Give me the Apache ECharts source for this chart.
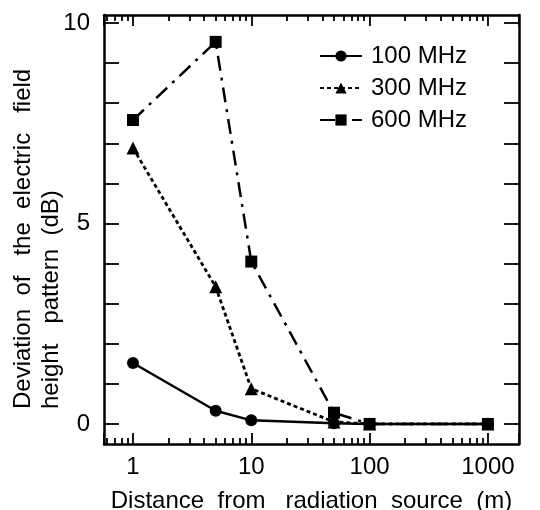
<!DOCTYPE html>
<html>
<head>
<meta charset="utf-8">
<script src="https://cdn.jsdelivr.net/npm/echarts@6/dist/echarts.min.js"></script>
<style>html,body{margin:0;padding:0;background:#fff;}#c{width:540px;height:510px;}</style>
</head>
<body>
<div id="c"></div>
<script>
const distances = [1, 5, 10, 50, 100, 1000];
const mhz100 = [1.52, 0.33, 0.09, 0.02, 0.0, 0.0];
const mhz300 = [6.88, 3.42, 0.88, 0.05, 0.0, 0.0];
const mhz600 = [7.58, 9.53, 4.05, 0.28, 0.0, 0.0];
const seriesNames = ['100 MHz', '300 MHz', '600 MHz'];
const yTickValues = [0, 1, 2, 3, 4, 5, 6, 7, 8, 9, 10];
const yLabelValues = [0, 5, 10];
const xTitle = 'Distance  from   radiation  source  (m)';
const yTitleLines = ['Deviation  of   the  electric   field', 'height   pattern  (dB)'];

const X_MIN = 0.569, X_MAX = 1832;
const FONT = 'Liberation Sans, Arial, Helvetica, sans-serif';
const FS = 24;

function pts(vals) { return distances.map((d, i) => [d, vals[i]]); }
function isPow10(v) { const l = Math.log10(v); return Math.abs(l - Math.round(l)) < 1e-6; }

const axisLine = { show: true, onZero: false, lineStyle: { color: '#000', width: 2.5 } };
const tickStyle = { color: '#000', width: 1.8 };

const chart = echarts.init(document.getElementById('c'), null, { renderer: 'canvas' });
chart.setOption({
  animation: false,
  backgroundColor: '#fff',
  grid: { left: 104, right: 21, top: 15, bottom: 66, containLabel: false, outerBoundsMode: 'none' },
  legend: {
    orient: 'vertical', left: 314, top: 39,
    itemWidth: 42, itemHeight: 14, itemGap: 8,
    textStyle: { fontSize: FS, color: '#000', fontFamily: FONT, padding: [0, 0, 0, 4] },
    data: seriesNames
  },
  xAxis: [
    {
      type: 'log', logBase: 10, min: X_MIN, max: X_MAX, position: 'bottom',
      axisLine: axisLine,
      axisTick: { show: true, inside: true, length: 11, lineStyle: tickStyle },
      minorTick: { show: true, splitNumber: 9, length: 6, lineStyle: tickStyle },
      splitLine: { show: false }, minorSplitLine: { show: false },
      axisLabel: {
        fontSize: FS, color: '#000', fontFamily: FONT, margin: 11,
        showMinLabel: true, showMaxLabel: true,
        formatter: v => (isPow10(v) ? String(Math.round(v)) : '')
      },
      name: xTitle, nameLocation: 'middle', nameGap: 45,
      nameTextStyle: { fontSize: FS, color: '#000', fontFamily: FONT }
    },
    {
      type: 'log', logBase: 10, min: X_MIN, max: X_MAX, position: 'top',
      axisLine: axisLine,
      axisTick: { show: true, inside: true, length: 11, lineStyle: tickStyle },
      minorTick: { show: true, splitNumber: 9, length: 6, lineStyle: tickStyle },
      splitLine: { show: false }, axisLabel: { show: false }
    }
  ],
  yAxis: [
    {
      type: 'value', min: -0.5, max: 10.2, position: 'left',
      axisLine: axisLine,
      axisTick: { show: true, inside: true, length: 15, customValues: yTickValues, lineStyle: tickStyle },
      splitLine: { show: false },
      axisLabel: { fontSize: FS, color: '#000', fontFamily: FONT, margin: 14, customValues: yLabelValues }
    },
    {
      type: 'value', min: -0.5, max: 10.2, position: 'right',
      axisLine: axisLine,
      axisTick: { show: true, inside: true, length: 15, customValues: yTickValues, lineStyle: tickStyle },
      splitLine: { show: false }, axisLabel: { show: false }
    }
  ],
  graphic: [{
    type: 'text', x: 9, y: 409, rotation: Math.PI / 2,
    style: {
      text: yTitleLines.join('\n'), fill: '#000', font: FS + 'px ' + FONT,
      align: 'left', verticalAlign: 'top', lineHeight: 28
    }
  }],
  series: [
    {
      name: seriesNames[0], type: 'line', data: pts(mhz100), xAxisIndex: 0, yAxisIndex: 0,
      symbol: 'circle', symbolSize: 12, color: '#000',
      lineStyle: { color: '#000', width: 2.5, type: 'solid' }, itemStyle: { color: '#000' }
    },
    {
      name: seriesNames[1], type: 'line', data: pts(mhz300), xAxisIndex: 0, yAxisIndex: 0,
      symbol: 'triangle', symbolSize: 13, color: '#000',
      lineStyle: { color: '#000', width: 2.8, type: [4, 3] }, itemStyle: { color: '#000' }
    },
    {
      name: seriesNames[2], type: 'line', data: pts(mhz600), xAxisIndex: 0, yAxisIndex: 0,
      symbol: 'rect', symbolSize: 12, color: '#000',
      lineStyle: { color: '#000', width: 2.5, type: [15, 7, 3, 7] }, itemStyle: { color: '#000' }
    }
  ]
});
</script>
</body>
</html>
